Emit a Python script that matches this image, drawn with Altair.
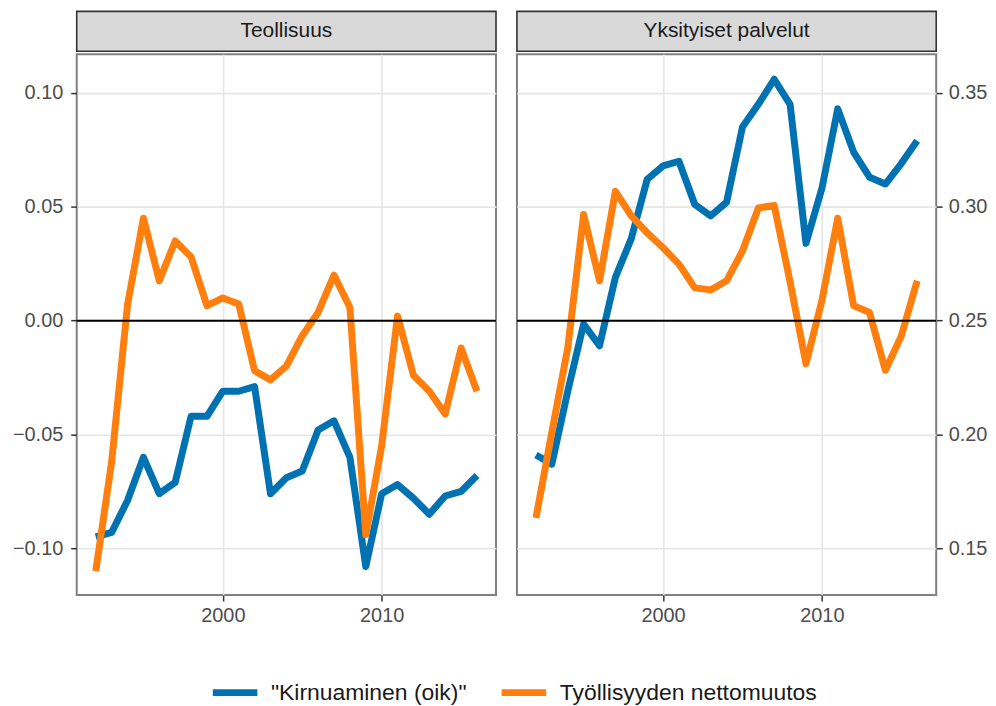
import altair as alt
import pandas as pd

# ---- data ----
vuodet = list(range(1992, 2017))

sarjat = ['"Kirnuaminen (oik)"', "Työllisyyden nettomuutos"]
varit = ["#0072B2", "#FF7F0E"]

# churn on the right-hand axis (right = left + 0.25)
teollisuus_kirnu = [0.155, 0.157, 0.171, 0.190, 0.174, 0.179, 0.208, 0.208, 0.219, 0.219,
                    0.221, 0.174, 0.181, 0.184, 0.202, 0.206, 0.190, 0.142, 0.174, 0.178,
                    0.172, 0.165, 0.173, 0.175, 0.182]
teollisuus_netto = [-0.110, -0.062, 0.007, 0.045, 0.0175, 0.035, 0.028, 0.0066, 0.010, 0.0073,
                    -0.022, -0.026, -0.020, -0.0066, 0.0036, 0.020, 0.0058, -0.094, -0.055, 0.002,
                    -0.024, -0.031, -0.041, -0.012, -0.031]
palvelut_kirnu = [0.191, 0.187, 0.219, 0.2485, 0.239, 0.269, 0.286, 0.312, 0.318, 0.320,
                  0.301, 0.296, 0.302, 0.335, 0.345, 0.356, 0.345, 0.284, 0.308, 0.343,
                  0.324, 0.313, 0.310, 0.319, 0.329]
palvelut_netto = [-0.0866, -0.049, -0.012, 0.0466, 0.0175, 0.0568, 0.046, 0.0386, 0.032, 0.0248,
                  0.0144, 0.0135, 0.0175, 0.0306, 0.0495, 0.0506, 0.017, -0.0189, 0.0087, 0.045,
                  0.0066, 0.0036, -0.0218, -0.0068, 0.0175]

paneelit = ["Teollisuus", "Yksityiset palvelut"]
x_tikit = [2000, 2010]
y_tikit = [-0.10, -0.05, 0.0, 0.05, 0.10]
OIK_SIIRTO = 0.25  # secondary axis offset

# ---- layout constants ----
W, H = 421, 543
XDOM = [1990.8, 2017.2]
YDOM = [-0.1205, 0.1170]
FONT = "Liberation Sans"

color = alt.Color(
    "sarja:N",
    scale=alt.Scale(domain=sarjat, range=varit),
    legend=alt.Legend(
        orient="none", legendX=133, legendY=615, direction="horizontal", title=None,
        labelFontSize=23, labelFont=FONT, labelColor="#1a1a1a", labelLimit=600,
        symbolType="stroke", symbolStrokeWidth=7, symbolSize=2000,
        labelOffset=10, columnPadding=20,
    ),
)


def paneeli(nimi, kirnu, netto, puoli):
    df = pd.DataFrame({
        "vuosi": vuodet * 2,
        "sarja": [sarjat[0]] * len(vuodet) + [sarjat[1]] * len(vuodet),
        "y": [k - OIK_SIIRTO for k in kirnu] + list(netto),
    })
    if puoli == "left":
        yaxis = alt.Axis(orient="left", values=y_tikit, format=".2f", title=None,
                         labelPadding=8, minExtent=68, maxExtent=68)
    else:
        yaxis = alt.Axis(orient="right", values=y_tikit, title=None, labelPadding=6,
                         labelExpr="format(datum.value + 0.25, '.2f')")
    x = alt.X("vuosi:Q", scale=alt.Scale(domain=XDOM, nice=False, zero=False),
              axis=alt.Axis(values=x_tikit, format="d", title=None, labelPadding=5))
    y = alt.Y("y:Q", scale=alt.Scale(domain=YDOM, nice=False, zero=False), axis=yaxis)

    base = alt.Chart(df)
    sininen = base.transform_filter(alt.datum.sarja == sarjat[0]).mark_line(
        strokeWidth=7, strokeCap="butt", strokeJoin="round").encode(x=x, y=y, color=color)
    oranssi = base.transform_filter(alt.datum.sarja == sarjat[1]).mark_line(
        strokeWidth=7, strokeCap="butt", strokeJoin="round").encode(x=x, y=y, color=color)
    nolla = alt.Chart(pd.DataFrame({"y": [0.0]})).mark_rule(color="black", strokeWidth=2).encode(y=y)
    otsikko_df = pd.DataFrame({"nimi": [nimi]})
    laatikko = alt.Chart(otsikko_df).mark_rect(
        fill="#d9d9d9", stroke="#333333", strokeWidth=1.6).encode(
        x=alt.value(0), x2=alt.value(W), y=alt.value(-43), y2=alt.value(-3))
    teksti = alt.Chart(otsikko_df).mark_text(
        fontSize=21, font=FONT, color="#1a1a1a", baseline="middle", align="center").encode(
        x=alt.value(W / 2), y=alt.value(-23), text="nimi:N")
    return alt.layer(sininen, oranssi, nolla, laatikko, teksti).properties(width=W, height=H)


vasen = paneeli(paneelit[0], teollisuus_kirnu, teollisuus_netto, "left")
oikea = paneeli(paneelit[1], palvelut_kirnu, palvelut_netto, "right")

chart = alt.hconcat(vasen, oikea, spacing=17).properties(
    padding={"left": 0, "top": 0, "right": 0, "bottom": 0}
).configure_view(
    stroke="#808080", strokeWidth=2
).configure_axis(
    domain=False, grid=True, gridColor="#e6e6e6", gridWidth=1.6,
    tickColor="#333333", tickWidth=1.5, tickSize=6,
    labelFont=FONT, labelFontSize=20, labelColor="#4d4d4d",
)

chart.save("out.html", embed_options={"renderer": "svg", "actions": False})
